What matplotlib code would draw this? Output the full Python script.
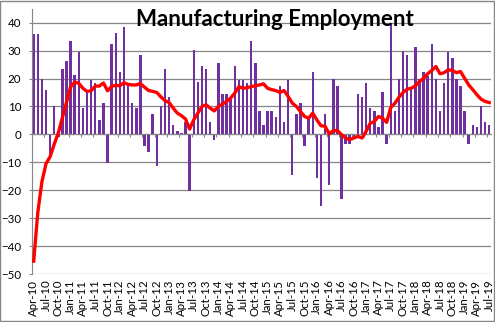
# -*- coding: utf-8 -*-
import numpy as np
import pandas as pd
import matplotlib
matplotlib.use('Agg')
import matplotlib.pyplot as plt
from matplotlib.patches import Rectangle

plt.rcParams['font.family'] = ['Lato', 'DejaVu Sans']

# months Apr-10 .. Jul-19
months = pd.date_range('2010-04-01', periods=112, freq='MS')
month_labels = [m.strftime('%b-%y') for m in months]

# monthly change in manufacturing jobs (thousands)
change = [
    36, 36, 20, 16, -8, 10, -1, 23.5, 26.3, 33.5, 21.2, 29.5,
    9.6, 16, 19.4, 18.3, 5.2, 11.2, -10.3, 32.4, 36.2, 22.4, 38.3, 18,
    11.2, 9.6, 28.5, -4.3, -6.2, 7.3, -11.2, 10, 23.5, 13.5, 3.5, 1.3,
    0.5, 4.5, -20.3, 30.2, 18.6, 24.5, 23.5, 4.5, -2.1, 25.4, 14.5, 14.5,
    13, 24.5, 19.5, 19.5, 18.3, 33.5, 25.4, 8.5, 3.5, 8.5, 8.5, 6.4,
    17.4, 4.5, 19.5, -14.4, 7.4, 11.1, -4.3, 5.5, 22.4, -15.5, -25.5, 7.4,
    -18.2, 20, 17.4, -23.3, -3.3, -3.3, -1.5, 14.4, 13.5, 18.5, 9.4, 8.5,
    2.5, 15.2, -3.3, 40, 8.5, 20, 30, 28.3, 16.5, 31.2, 20, 22.4,
    21, 32.4, 20, 8.5, 18.5, 29.5, 27.4, 20, 17.4, 8.5, -3.3, 3.5,
    2.5, 10.2, 4.5, 3.5,
]

# 12-month average (red line)
avg12 = [
    -45.4, -28, -17, -10.5, -8, -3.5, 0.5, 6, 11.5, 17, 18.7, 18.3,
    16.5, 15.4, 15.6, 17.3, 17.3, 18.4, 15.6, 17.2, 17.6, 17.4, 18.5, 17.9,
    17.7, 17.7, 18.2, 16.9, 15.7, 15.4, 15, 13.4, 12.1, 11.4, 9.4, 7.6,
    6.7, 5.5, 1.9, 5.2, 7.6, 10, 10.6, 9.4, 8.4, 10, 10.8, 11.8,
    13, 14.8, 17.1, 16.5, 16.7, 17.1, 17.4, 17.7, 18.1, 16.5, 16, 15.7,
    15, 15.7, 13.6, 11.2, 10, 8.2, 6.4, 5.8, 7.6, 5.2, 3.1, 2.9,
    0.2, 1.3, 1.4, -0.1, -1.3, -1.9, -1.3, -0.7, -1.3, 1.1, 4, 4.6,
    6.4, 5.8, 4.3, 9.6, 11.1, 13.3, 15, 16.2, 16.5, 17.4, 18.9, 20.1,
    21.7, 22.9, 24.3, 21.7, 22.1, 23.1, 22.9, 22.1, 22.5, 20.1, 17.7, 16,
    14.2, 12.6, 11.8, 11.4,
]

grid_col = '#868686'

fig = plt.figure(figsize=(4.95, 3.22), dpi=100)
ax = fig.add_axes([0.0639, 0.149, 0.9286, 0.824])

x = np.arange(len(months))
ax.bar(x, change, width=0.6, color='#7030A0', zorder=2)
ax.plot(x, avg12, color='#FF0000', lw=2.4, zorder=3, solid_joinstyle='round')

ax.set_xlim(-0.5, len(months) - 0.5)
ax.set_ylim(-50, 45)
ax.set_yticks(np.arange(-50, 41, 10))
ax.yaxis.grid(True, color=grid_col, lw=0.9)
ax.set_axisbelow(True)

# axes lines
for s in ['top', 'right']:
    ax.spines[s].set_visible(False)
ax.spines['left'].set_color(grid_col)
ax.spines['bottom'].set_color(grid_col)
ax.spines['bottom'].set_position(('data', 0))

ax.tick_params(axis='y', length=2.5, color=grid_col, pad=5, labelsize=8.3)
ax.set_xticks(x[::3] - 0.5)
ax.tick_params(axis='x', labelbottom=False, length=2.5, color=grid_col)

# category labels at the bottom of the plot
sec = ax.secondary_xaxis('bottom')
sec.set_xticks(x[::3], [month_labels[i] for i in x[::3]])
sec.tick_params(length=0, pad=4, labelsize=8.3, rotation=90)
sec.spines['bottom'].set_visible(False)

# title and chart border
fig.text(0.5545, 0.919, 'Manufacturing Employment', ha='center', va='baseline',
         fontsize=16, fontweight='bold')
fig.patches.append(Rectangle((0.001, 0.002), 0.997, 0.996, transform=fig.transFigure,
                             fill=False, edgecolor=grid_col, lw=1))

fig.savefig('out.png', dpi=100)
